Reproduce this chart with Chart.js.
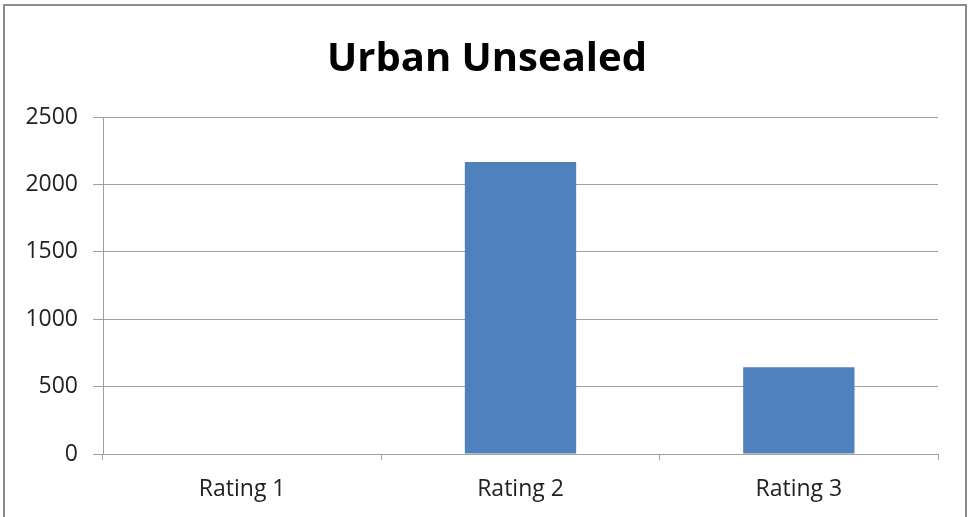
<!DOCTYPE html>
<html>
<head>
<meta charset="utf-8">
<script src="https://cdn.jsdelivr.net/npm/chart.js@4/dist/chart.umd.min.js"></script>
<style>
  html, body { margin: 0; padding: 0; background: #fff; }
  #wrap { width: 970px; height: 517px; position: relative; }
</style>
</head>
<body>
<div id="wrap"><canvas id="bar-chart" width="970" height="517"></canvas></div>
<script>
  const categories = ['Rating 1', 'Rating 2', 'Rating 3'];
  const counts = [0, 2167, 644];
  const yTicks = [0, 500, 1000, 1500, 2000, 2500];

  const lineGrey = '#a0a0a0';

  // thin frame round the whole chart
  const frame = {
    id: 'frame',
    beforeDraw: chart => {
      const ctx = chart.ctx;
      ctx.save();
      ctx.strokeStyle = '#8c8c8c';
      ctx.lineWidth = 2;
      ctx.strokeRect(4, 5, 962, 530);
      ctx.restore();
    }
  };

  new Chart(document.getElementById('bar-chart').getContext('2d'), {
    type: 'bar',
    data: {
      labels: categories,
      datasets: [{
        data: counts,
        backgroundColor: '#4f81bd',
        barPercentage: 0.4,
        categoryPercentage: 1.0
      }]
    },
    options: {
      responsive: false,
      animation: false,
      layout: { padding: { left: 4, right: 0, top: 0, bottom: 0 } },
      scales: {
        y: {
          min: 0,
          max: 2500,
          afterFit: s => { s.width = 99; },
          afterBuildTicks: s => { s.ticks = yTicks.map(v => ({ value: v })); },
          border: { color: lineGrey, width: 1 },
          grid: { color: lineGrey, tickLength: 10, tickColor: lineGrey },
          ticks: {
            padding: 15,
            color: '#222',
            font: { family: 'Open Sans', size: 23 },
            callback: v => String(v)
          }
        },
        // empty right-hand margin so the title stays centred on the frame
        spacer: {
          position: 'right',
          afterFit: s => { s.width = 32; },
          border: { display: false },
          grid: { display: false },
          ticks: { display: false }
        },
        x: {
          afterFit: s => { s.height = 63; },
          border: { color: lineGrey, width: 1 },
          grid: { offset: true, drawOnChartArea: false, tickLength: 6, tickColor: lineGrey },
          ticks: {
            padding: 16,
            color: '#222',
            font: { family: 'Open Sans', size: 23 }
          }
        }
      },
      plugins: {
        legend: { display: false },
        tooltip: { enabled: false },
        title: {
          display: true,
          text: 'Urban Unsealed',
          color: '#000',
          font: { family: 'Open Sans', size: 40, weight: 'bold', lineHeight: 1.2 },
          padding: { top: 36, bottom: 33 }
        }
      }
    },
    plugins: [frame]
  });
</script>
</body>
</html>
